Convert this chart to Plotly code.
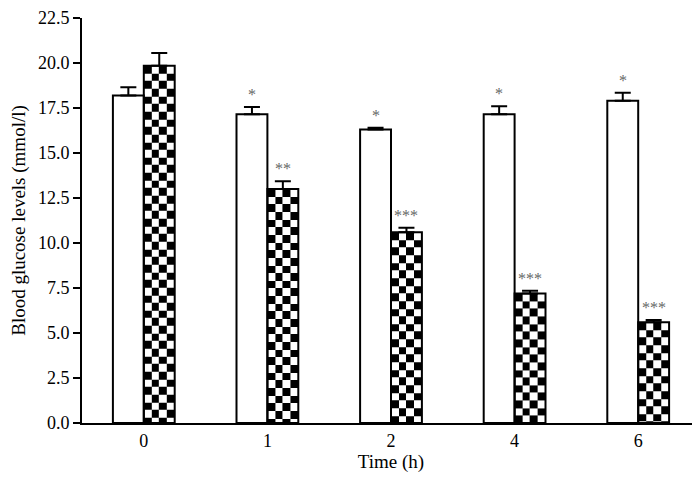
import numpy as np
import plotly.graph_objects as go

# ---- data ----
time_labels = ["0", "1", "2", "4", "6"]
control_means = [18.2, 17.15, 16.3, 17.15, 17.9]
control_err = [0.45, 0.4, 0.1, 0.45, 0.45]
treated_means = [19.85, 13.0, 10.6, 7.2, 5.6]
treated_err = [0.7, 0.43, 0.25, 0.15, 0.12]
control_sig = ["", "*", "*", "*", "*"]
treated_sig = ["", "**", "***", "***", "***"]

# ---- style / geometry ----
FONT = "Liberation Serif"
BAR_W = 0.25          # width of each bar in category units
N_COLS = 4            # checker squares across one bar
SQ_Y = 0.425          # checker square height in data units

pos = list(range(len(time_labels)))
x_ctrl = [p - BAR_W / 2 for p in pos]
x_trt = [p + BAR_W / 2 for p in pos]

fig = go.Figure()

# checkerboard fill for treated bars (drawn beneath the bar outlines)
for xc, v in zip(x_trt, treated_means):
    n = int(np.ceil(v / SQ_Y))
    y_edges = [max(v - SQ_Y * k, 0.0) for k in range(n, -1, -1)]
    x_edges = list(np.linspace(xc - BAR_W / 2, xc + BAR_W / 2, N_COLS + 1))
    z = []
    for j in range(n):
        top_idx = n - 1 - j
        z.append([1 if (top_idx + c) % 2 == 0 else 0 for c in range(N_COLS)])
    fig.add_trace(go.Heatmap(
        x=x_edges, y=y_edges, z=z,
        colorscale=[[0, "white"], [1, "black"]],
        zmin=0, zmax=1, showscale=False, hoverinfo="skip", zsmooth=False,
    ))

fig.add_trace(go.Bar(
    x=x_ctrl, y=control_means, width=BAR_W,
    marker=dict(color="white", line=dict(color="black", width=2)),
    error_y=dict(type="data", array=control_err, arrayminus=[0] * len(control_err),
                 symmetric=False, color="black", thickness=2, width=8),
    showlegend=False,
))
fig.add_trace(go.Bar(
    x=x_trt, y=treated_means, width=BAR_W,
    marker=dict(color="rgba(0,0,0,0)", line=dict(color="black", width=2)),
    error_y=dict(type="data", array=treated_err, arrayminus=[0] * len(treated_err),
                 symmetric=False, color="black", thickness=2, width=8),
    showlegend=False,
))

annotations = []
for xs, ms, es, sg in [(x_ctrl, control_means, control_err, control_sig),
                       (x_trt, treated_means, treated_err, treated_sig)]:
    for x, m, e, s in zip(xs, ms, es, sg):
        if s:
            annotations.append(dict(
                x=x, y=m + e, text=s, showarrow=False, xanchor="center",
                yanchor="bottom", yshift=2,
                font=dict(family=FONT, size=16, color="#666666"),
            ))

fig.update_layout(
    width=692, height=472,
    margin=dict(l=74, r=0, t=10, b=57, autoexpand=False),
    plot_bgcolor="white", paper_bgcolor="white",
    barmode="overlay",
    font=dict(family=FONT, size=18, color="black"),
    annotations=annotations,
    xaxis=dict(
        range=[-0.5, len(time_labels) - 0.5],
        tickvals=pos, ticktext=time_labels,
        showline=True, linecolor="black", linewidth=2,
        ticks="", showgrid=False, zeroline=False, automargin=False,
        title=dict(text="Time (h)", standoff=5, font=dict(size=19)),
        tickfont=dict(size=18),
    ),
    yaxis=dict(
        range=[0, 22.5], dtick=2.5, tick0=0, tickformat=".1f",
        showline=True, linecolor="black", linewidth=2,
        ticks="outside", ticklen=7, tickwidth=2, tickcolor="black",
        showgrid=False, zeroline=False, automargin=False,
        ticklabeloverflow="allow",
        title=dict(text="Blood glucose levels (mmol/l)", standoff=21, font=dict(size=19)),
        tickfont=dict(size=18),
    ),
)

fig.write_html("out.html")
